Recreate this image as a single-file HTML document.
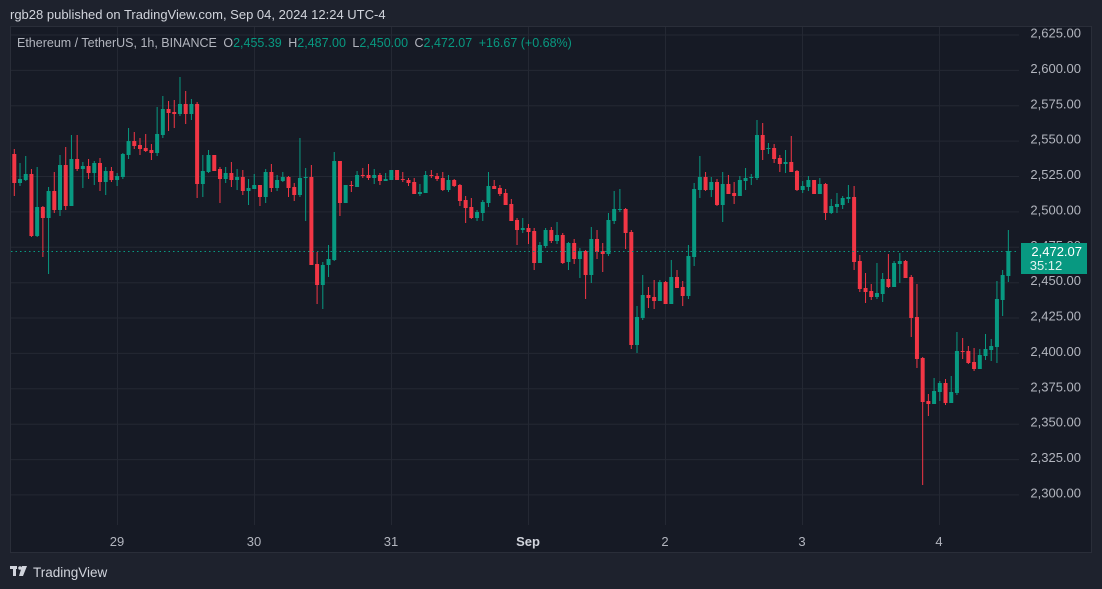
<!DOCTYPE html>
<html><head><meta charset="utf-8"><style>
html,body{margin:0;padding:0;background:#1e222d;width:1102px;height:589px;overflow:hidden;font-family:"Liberation Sans",sans-serif}
</style></head><body>
<svg id="s" width="1102" height="589" xmlns="http://www.w3.org/2000/svg" style="position:absolute;left:0;top:0">
<rect x="0" y="0" width="1102" height="589" fill="#1e222d"/>
<rect x="10.5" y="26.5" width="1081" height="526" fill="#161a25" stroke="#2a2e39"/>
<text x="10" y="19" fill="#d1d4dc" font-size="13">rgb28 published on TradingView.com, Sep 04, 2024 12:24 UTC-4</text>
<g id="grid"></g>
<g id="c"></g>
<line x1="11" y1="251.5" x2="1019" y2="251.5" stroke="#089981" stroke-dasharray="1.5,3" stroke-width="1"/>
<g font-size="13" fill="#b2b5be" text-anchor="end" id="yl"></g>
<rect x="1021" y="243" width="66" height="31" fill="#089981"/>
<text x="1082" y="256" fill="#fff" font-size="13" text-anchor="end">2,472.07</text>
<text x="1046" y="270" fill="#e0f2ee" font-size="13" text-anchor="middle">35:12</text>
<g font-size="13" fill="#b2b5be" text-anchor="middle">
<text x="117" y="546">29</text><text x="254" y="546">30</text><text x="391" y="546">31</text>
<text x="528" y="546" fill="#d1d4dc" font-weight="bold">Sep</text><text x="665" y="546">2</text><text x="802" y="546">3</text><text x="939" y="546">4</text>
</g>
<text x="17" y="47" font-size="12.5" fill="#b2b5be">Ethereum / TetherUS, 1h, BINANCE <tspan dx="3">O</tspan><tspan fill="#089981">2,455.39</tspan> <tspan dx="3">H</tspan><tspan fill="#089981">2,487.00</tspan> <tspan dx="3">L</tspan><tspan fill="#089981">2,450.00</tspan> <tspan dx="3">C</tspan><tspan fill="#089981">2,472.07</tspan> <tspan dx="3" fill="#089981">+16.67 (+0.68%)</tspan></text>
<g fill="#d1d4dc"><rect x="10" y="566" width="7" height="3"/><rect x="13" y="566" width="3" height="10"/><circle cx="20" cy="568" r="1.8"/><polygon points="22,566 27,566 23,576 19,576"/></g>
<text x="33" y="577" font-size="13.5" fill="#d1d4dc">TradingView</text>
</svg>
<script>
var d=[[154,183,149,196],[183,179,163,186],[180,174,156,181],[174,236,169,237],[236,207,167,237],[207,218,206,257],[218,191,187,274],[191,210,172,213],[210,165,155,216],[165,206,147,210],[206,159,135,206],[159,169,135,171],[169,166,162,188],[166,173,159,179],[173,163,161,185],[163,182,158,191],[182,171,167,195],[171,180,167,182],[180,176,173,186],[177,154,153,179],[155,141,128,159],[141,146,132,149],[145,149,138,155],[148,151,134,152],[150,153,144,160],[153,134,107,156],[135,109,96,138],[109,113,101,131],[112,114,100,128],[114,104,77,116],[104,114,91,124],[114,104,99,120],[104,184,102,198],[184,171,155,197],[172,155,150,173],[155,171,155,171],[169,179,167,203],[179,173,167,183],[173,180,162,187],[180,177,169,190],[177,191,170,195],[191,188,179,205],[189,185,174,189],[185,197,185,206],[197,172,169,203],[172,188,164,192],[188,180,175,191],[181,177,172,182],[177,188,176,197],[187,195,183,201],[195,178,138,197],[178,177,168,221],[177,265,165,265],[264,285,252,304],[285,265,262,309],[265,259,245,277],[260,161,152,261],[161,203,161,216],[203,185,185,203],[185,186,181,192],[187,175,171,187],[175,176,168,178],[175,178,164,180],[178,175,169,184],[175,181,173,185],[181,179,173,181],[180,170,170,180],[170,180,170,180],[179,180,172,182],[180,183,178,186],[182,194,178,194],[194,192,184,196],[193,175,171,193],[175,176,170,178],[176,179,173,181],[178,190,172,191],[190,180,175,192],[180,186,179,187],[185,201,184,206],[200,208,196,223],[207,218,198,219],[218,212,210,221],[213,202,200,221],[203,186,172,207],[186,189,180,189],[188,194,185,196],[193,205,189,205],[204,221,199,221],[220,230,218,245],[230,228,218,233],[228,232,224,244],[231,263,228,270],[263,245,242,263],[246,230,228,248],[230,241,227,243],[241,235,222,244],[235,263,233,264],[262,243,242,270],[243,259,239,264],[259,251,248,278],[251,275,250,299],[275,239,227,283],[239,252,230,259],[251,254,243,272],[254,220,213,256],[221,209,191,224],[210,209,189,212],[209,233,208,249],[232,345,230,349],[345,317,306,353],[318,295,275,320],[295,298,287,308],[297,301,280,309],[301,282,280,301],[282,304,281,304],[304,277,260,304],[277,288,270,288],[287,296,281,306],[296,256,245,299],[257,189,183,266],[190,177,156,198],[177,190,172,191],[190,182,177,197],[182,205,179,206],[205,184,172,222],[184,194,175,194],[193,196,182,204],[196,180,176,196],[181,178,168,190],[178,177,174,185],[178,135,120,180],[135,150,123,160],[149,148,143,154],[148,159,144,163],[158,164,155,172],[164,162,150,173],[162,172,136,172],[171,190,170,191],[190,186,181,193],[187,180,176,191],[180,194,180,194],[194,184,178,194],[184,213,183,220],[213,206,199,214],[207,204,193,213],[205,198,196,209],[199,197,185,203],[197,262,186,270],[261,289,255,292],[288,292,273,303],[291,297,284,300],[297,293,263,299],[294,279,273,302],[279,287,254,288],[287,263,261,287],[264,261,253,283],[261,278,260,278],[277,318,275,337],[317,359,284,368],[358,402,357,485],[401,404,394,416],[404,391,378,404],[392,383,381,401],[383,403,379,405],[403,392,376,403],[393,351,332,395],[351,352,338,359],[351,363,346,364],[362,369,348,371],[369,355,349,369],[356,349,334,360],[350,346,339,361],[347,299,281,363],[300,275,270,316],[276,251,230,282]];
var ns="http://www.w3.org/2000/svg",h="";
var g="";
for(var k=0;k<14;k++){var y=35+35.38*k;g+='<line x1="11" x2="1019" y1="'+y.toFixed(1)+'" y2="'+y.toFixed(1)+'" stroke="#242833"/>';}
[117,254,391,528,665,802,939].forEach(function(x){g+='<line x1="'+(x+.5)+'" x2="'+(x+.5)+'" y1="27" y2="525" stroke="#242833"/>';});
document.getElementById("grid").innerHTML=g;
var yl="";var p=2625;for(var k=0;k<14;k++){yl+='<text x="1081" y="'+(33+35.38*k+4.5).toFixed(1)+'">'+(p-25*k).toLocaleString("en-US")+'.00</text>';}
document.getElementById("yl").innerHTML=yl;
d.forEach(function(c,i){var x=14.3+5.713*i;var up=c[1]<c[0];var col=up?"#089981":"#f23645";
var t=Math.min(c[0],c[1]),b=Math.max(c[0],c[1]);if(b-t<1)b=t+1;
h+='<rect x="'+(x-0.5).toFixed(2)+'" y="'+c[2]+'" width="1" height="'+(c[3]-c[2])+'" fill="'+col+'"/>';
h+='<rect x="'+(x-2).toFixed(2)+'" y="'+t+'" width="4" height="'+(b-t)+'" fill="'+col+'"/>';});
document.getElementById("c").innerHTML=h;
</script>
</body></html>
